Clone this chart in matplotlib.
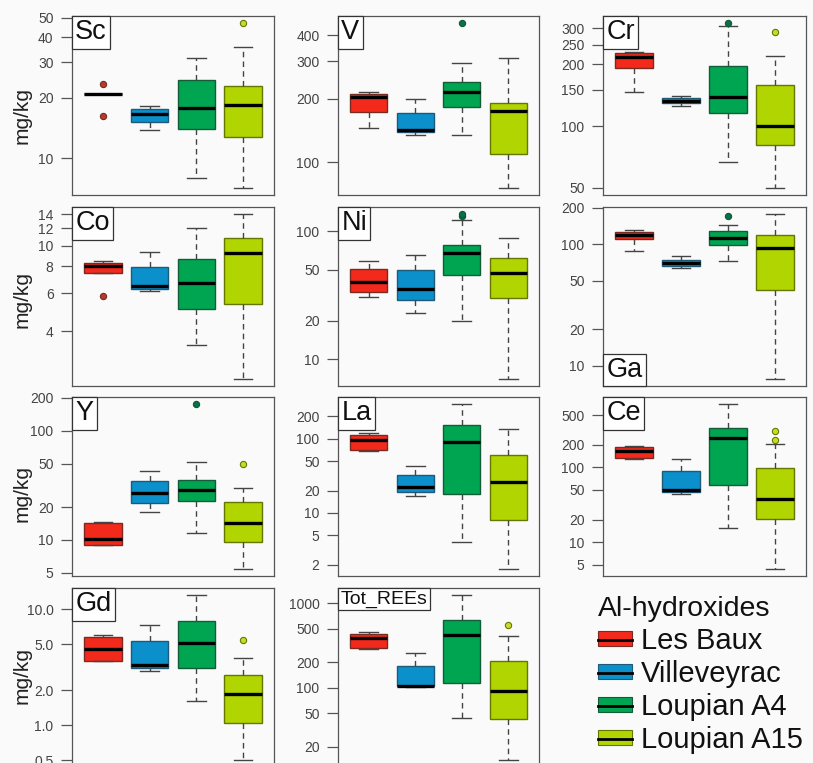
import numpy as np
import matplotlib
matplotlib.use("Agg")
import matplotlib.pyplot as plt
from matplotlib.offsetbox import AnchoredText
from matplotlib.patches import Patch
from matplotlib.lines import Line2D
from matplotlib.ticker import NullLocator

plt.rcParams['font.family'] = ['Liberation Sans', 'DejaVu Sans']

groups = ['Les Baux', 'Villeveyrac', 'Loupian A4', 'Loupian A15']
fills = ['#f3291c', '#0b90cb', '#00a551', '#b1d500']
edges = ['#7a2a20', '#1d5b78', '#145c38', '#667600']
flier_fc = ['#b33b30', '#1d6f90', '#0a7048', '#c6dc2a']
flier_ec = ['#7a2a20', '#1d5b78', '#0a5a3a', '#667600']

# per group: (whislo, q1, median, q3, whishi, outliers), mg/kg
Sc = [(20.8, 20.8, 20.8, 20.8, 20.8, [23.4, 16.2]),
      (13.8, 15.2, 16.7, 17.5, 18.3, []),
      (8.0, 14.0, 17.7, 24.5, 31.5, []),
      (7.1, 12.8, 18.5, 23.0, 35.7, [47.2])]
V = [(145, 172, 203, 210, 215, []),
     (135, 139, 142, 170, 198, []),
     (134, 183, 214, 240, 296, [458]),
     (75, 109, 174, 190, 311, [])]
Cr = [(147, 192, 218, 228, 231, []),
      (125, 129, 133, 137, 140, []),
      (66.5, 116, 138, 197, 308, [320]),
      (49.6, 80.5, 99.8, 158, 220, [289])]
Co = [(7.5, 7.5, 8.0, 8.27, 8.45, [5.82]),
      (6.19, 6.32, 6.53, 7.93, 9.31, []),
      (3.48, 5.10, 6.70, 8.67, 12.0, []),
      (2.40, 5.36, 9.21, 10.8, 14.06, [])]
Ni = [(30.6, 33.5, 40.3, 50.9, 58.0, []),
      (23.0, 28.8, 35.1, 49.7, 64.6, []),
      (19.7, 45.4, 67.4, 77.8, 121.8, [131, 137]),
      (6.94, 29.9, 47.3, 61.2, 88.2, [])]
Ga = [(87.5, 110, 119, 126.5, 132, []),
      (64.1, 66.1, 70.0, 74.7, 80.5, []),
      (72.3, 99.4, 112.8, 128, 146, [173]),
      (7.7, 41.8, 92.7, 119.5, 179.5, [])]
Y = [(9.0, 9.0, 10.1, 14.4, 14.7, []),
     (17.9, 22.0, 26.8, 34.5, 43.2, []),
     (11.6, 22.5, 28.9, 35.5, 51.2, [177]),
     (5.38, 9.52, 14.4, 22.3, 29.8, [49.4])]
La = [(68.8, 70.3, 95.9, 112, 118, []),
      (17.0, 19.2, 22.2, 32.3, 42.7, []),
      (4.06, 17.7, 89.2, 151, 297, []),
      (1.73, 8.04, 26.0, 59.5, 136.5, [])]
Ce = [(130.6, 133.4, 167, 189, 195, []),
      (44.0, 46.7, 49.7, 90.2, 130.6, []),
      (15.7, 57.4, 250, 340, 712, []),
      (4.35, 20.5, 38.1, 98, 207.5, [235, 310])]
Gd = [(3.56, 3.56, 4.49, 5.74, 5.97, []),
      (2.94, 3.12, 3.33, 5.26, 7.23, []),
      (1.61, 3.14, 5.13, 7.83, 13.3, []),
      (0.50, 1.054, 1.86, 2.72, 3.83, [5.40])]
Tot_REEs = [(287, 293, 388, 433, 457, []),
            (102, 104, 104, 181, 255, []),
            (43.7, 115, 414, 634, 1256, []),
            (13.9, 42.9, 91.3, 207, 406, [543])]

sc_ticks = [10, 20, 30, 40, 50]
v_ticks = [100, 200, 300, 400]
cr_ticks = [50, 100, 150, 200, 250, 300]
co_ticks = [4, 6, 8, 10, 12, 14]
ni_ticks = [10, 20, 50, 100]
ga_ticks = [10, 20, 50, 100, 200]
y_ticks = [5, 10, 20, 50, 100, 200]
la_ticks = [2, 5, 10, 20, 50, 100, 200]
ce_ticks = [5, 10, 20, 50, 100, 200, 500]
gd_ticks = [0.5, 1.0, 2.0, 5.0, 10.0]
tot_ticks = [20, 50, 100, 200, 500, 1000]

panels = [('Sc', Sc, sc_ticks), ('V', V, v_ticks), ('Cr', Cr, cr_ticks),
          ('Co', Co, co_ticks), ('Ni', Ni, ni_ticks), ('Ga', Ga, ga_ticks),
          ('Y', Y, y_ticks), ('La', La, la_ticks), ('Ce', Ce, ce_ticks),
          ('Gd', Gd, gd_ticks), ('Tot_REEs', Tot_REEs, tot_ticks)]

W, H = 813, 763
fig = plt.figure(figsize=(W / 100, H / 100), dpi=100, facecolor='#fafafa')

col_left = [72, 338, 603]
col_w = [202, 201, 203]
row_top = [16, 207, 397, 588]
row_h = 179


def draw(ax, name, data, ticks):
    stats = [dict(whislo=d[0], q1=d[1], med=d[2], q3=d[3], whishi=d[4], fliers=d[5])
             for d in data]
    bp = ax.bxp(stats, positions=[1, 2, 3, 4], widths=0.8, patch_artist=True,
                capwidths=0.4,
                boxprops=dict(lw=1),
                medianprops=dict(color='k', lw=2.4, solid_capstyle='butt'),
                whiskerprops=dict(color='#444444', lw=1, ls=(0, (4, 3))),
                capprops=dict(color='#444444', lw=1),
                flierprops=dict(marker='o', ms=4.5))
    for i in range(4):
        bp['boxes'][i].set(facecolor=fills[i], edgecolor=edges[i])
        bp['fliers'][i].set(markerfacecolor=flier_fc[i], markeredgecolor=flier_ec[i],
                            markeredgewidth=0.8)
    ax.set_yscale('log')
    vals = [v for d in data for v in list(d[:5]) + list(d[5])]
    lo, hi = np.log10(min(vals)), np.log10(max(vals))
    pad = 0.04 * (hi - lo)
    ax.set_ylim(10 ** (lo - pad), 10 ** (hi + pad))
    ax.set_xlim(0.34, 4.66)
    ax.set_xticks([])
    ax.set_yticks(ticks)
    if name == 'Gd':
        ax.set_yticklabels(['%.1f' % t for t in ticks])
    else:
        ax.set_yticklabels(['%g' % t for t in ticks])
    ax.yaxis.set_minor_locator(NullLocator())
    ax.tick_params(axis='y', length=7.8, width=0.9, color='#555555', pad=5.5,
                   labelsize=10, labelcolor='#444444')
    for s in ax.spines.values():
        s.set_color('#555555')
        s.set_linewidth(0.9)
    ax.set_facecolor('#fafafa')

    loc = 'lower left' if name == 'Ga' else 'upper left'
    size = 14 if name == 'Tot_REEs' else 19.5
    at = AnchoredText(name, loc=loc, borderpad=0, pad=0.12, frameon=True,
                      prop=dict(size=size, color='#111111'))
    at.patch.set_boxstyle('square,pad=0')
    at.patch.set(facecolor='white', edgecolor='#333333', linewidth=0.9)
    at.set_zorder(5)
    ax.add_artist(at)


for k, (name, data, ticks) in enumerate(panels):
    r, c = divmod(k, 3)
    left = col_left[c] / W
    bottom = 1 - (row_top[r] + row_h) / H
    ax = fig.add_axes([left, bottom, col_w[c] / W, row_h / H])
    draw(ax, name, data, ticks)

for yc in [116, 299, 493, 676]:
    fig.text(22.5 / W, 1 - yc / H, 'mg/kg', rotation=90, ha='center', va='center',
             fontsize=15, color='#222222')

handles = [(Patch(facecolor=fills[i], edgecolor=edges[i], lw=0.8),
            Line2D([], [], color='k', lw=2)) for i in range(4)]
leg = fig.legend(handles, groups, title='Al-hydroxides', loc='upper left',
                 bbox_to_anchor=(598 / W, 1 - 596 / H), frameon=False,
                 fontsize=21, title_fontsize=20.5, alignment='left',
                 handlelength=1.17, handleheight=0.45, handletextpad=0.3,
                 labelspacing=0.17, borderpad=0, borderaxespad=0)
for t in leg.get_texts():
    t.set_color('#111111')
leg.get_title().set_color('#111111')

fig.savefig('out.png', dpi=100, facecolor=fig.get_facecolor())
